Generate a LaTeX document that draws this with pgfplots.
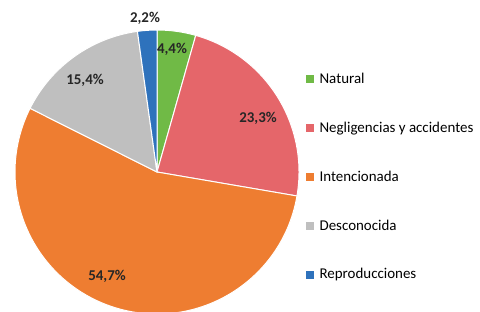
\documentclass[border=0pt]{standalone}
\usepackage{fontspec}
\setmainfont{Carlito}
\usepackage{pgfplots}
\usepackage{pgfplotstable}
\pgfplotsset{compat=1.18}
\definecolor{cNat}{RGB}{112,186,70}
\definecolor{cNeg}{RGB}{229,102,106}
\definecolor{cInt}{RGB}{238,125,49}
\definecolor{cDes}{RGB}{191,191,191}
\definecolor{cRep}{RGB}{46,114,188}
\pgfplotstableread{
label value
Natural 4.4
Negligencias 23.3
Intencionada 54.7
Desconocida 15.4
Reproducciones 2.2
}\piedata
\pgfplotstablegetelem{0}{value}\of\piedata \let\vA\pgfplotsretval
\pgfplotstablegetelem{1}{value}\of\piedata \let\vB\pgfplotsretval
\pgfplotstablegetelem{2}{value}\of\piedata \let\vC\pgfplotsretval
\pgfplotstablegetelem{3}{value}\of\piedata \let\vD\pgfplotsretval
\pgfplotstablegetelem{4}{value}\of\piedata \let\vE\pgfplotsretval
\pgfmathsetmacro\aA{90}
\pgfmathsetmacro\aB{\aA-3.6*\vA}
\pgfmathsetmacro\aC{\aB-3.6*\vB}
\pgfmathsetmacro\aD{\aC-3.6*\vC}
\pgfmathsetmacro\aE{\aD-3.6*\vD}
\pgfmathsetmacro\aF{\aE-3.6*\vE}
\begin{document}
\begin{tikzpicture}
\useasboundingbox (0,0) rectangle (480bp,312bp);
\clip (0,0) rectangle (480bp,312bp);
\begin{axis}[
  at={(0,0)}, anchor=south west,
  scale only axis, width=480bp, height=312bp,
  xmin=0, xmax=480, ymin=0, ymax=312,
  axis lines=none,
  legend style={at={(axis cs:303,243)}, anchor=north west, draw=none, fill=none,
    font=\fontsize{15}{18}\selectfont, row sep=33bp,
    /tikz/every odd column/.append style={column sep=4bp}},
  legend cell align=left,
]
\addlegendimage{legend image code/.code={\fill[cNat] (0bp,-3.5bp) rectangle (7bp,3.5bp);}}
\addlegendentry{Natural}
\addlegendimage{legend image code/.code={\fill[cNeg] (0bp,-3.5bp) rectangle (7bp,3.5bp);}}
\addlegendentry{Negligencias y accidentes}
\addlegendimage{legend image code/.code={\fill[cInt] (0bp,-3.5bp) rectangle (7bp,3.5bp);}}
\addlegendentry{Intencionada}
\addlegendimage{legend image code/.code={\fill[cDes] (0bp,-3.5bp) rectangle (7bp,3.5bp);}}
\addlegendentry{Desconocida}
\addlegendimage{legend image code/.code={\fill[cRep] (0bp,-3.5bp) rectangle (7bp,3.5bp);}}
\addlegendentry{Reproducciones}
\filldraw[fill=cNat, draw=white, line width=1bp] (axis cs:157,140) -- ++(\aA:142bp) arc[start angle=\aA, end angle=\aB, radius=142bp] -- cycle;
\filldraw[fill=cNeg, draw=white, line width=1bp] (axis cs:157,140) -- ++(\aB:142bp) arc[start angle=\aB, end angle=\aC, radius=142bp] -- cycle;
\filldraw[fill=cInt, draw=white, line width=1bp] (axis cs:157,140) -- ++(\aC:142bp) arc[start angle=\aC, end angle=\aD, radius=142bp] -- cycle;
\filldraw[fill=cDes, draw=white, line width=1bp] (axis cs:157,140) -- ++(\aD:142bp) arc[start angle=\aD, end angle=\aE, radius=142bp] -- cycle;
\filldraw[fill=cRep, draw=white, line width=1bp] (axis cs:157,140) -- ++(\aE:142bp) arc[start angle=\aE, end angle=\aF, radius=142bp] -- cycle;
\begin{scope}[every node/.style={font=\fontsize{15}{18}\selectfont\bfseries, text=black!85}]
\node at (axis cs:145,294) {2,2\%};
\node at (axis cs:172,263) {4,4\%};
\node at (axis cs:258,194) {23,3\%};
\node at (axis cs:85,232) {15,4\%};
\node at (axis cs:107,36) {54,7\%};
\end{scope}
\end{axis}
\end{tikzpicture}
\end{document}
